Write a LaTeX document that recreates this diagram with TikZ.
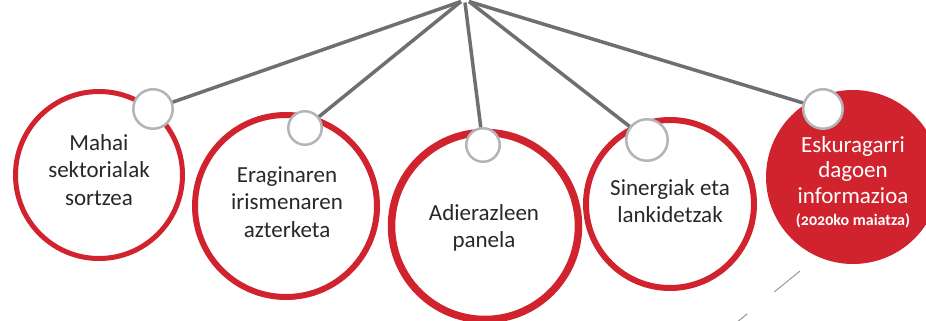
\documentclass[tikz,border=0pt]{standalone}
\usepackage{fontspec}
\setmainfont{Carlito}[Numbers=OldStyle]
\definecolor{ringred}{RGB}{209,35,45}
\definecolor{linegray}{RGB}{110,111,114}
\definecolor{smallgray}{RGB}{178,180,183}
\definecolor{txt}{RGB}{40,40,42}
\definecolor{dashgray}{RGB}{150,150,152}
\begin{document}
\begin{tikzpicture}[x=1pt,y=-1pt,
  bigring/.style={circle,draw=ringred,fill=white,inner sep=0pt},
  bigfill/.style={circle,fill=ringred,inner sep=0pt},
  label1/.style={inner sep=0pt,align=center,text=txt,font=\fontsize{23}{27.5}\selectfont},
  label2/.style={inner sep=0pt,align=center,text=white,font=\fontsize{23}{25.5}\selectfont},
  knob/.style={circle,draw=smallgray,line width=2.5pt,fill=white,inner sep=0pt},
  spoke/.style={draw=linegray,line width=3.5pt},
  guide/.style={draw=dashgray,line width=1pt,dash pattern=on 33pt off 35pt}
]
\useasboundingbox (0,0) rectangle (926,321);
\clip (0,0) rectangle (926,321);
% hub points
\coordinate (hubL) at (461,1.5);
\coordinate (hubM) at (465,2.5);
\coordinate (hubR) at (469,1.5);
% big circles
\node[bigring,line width=5pt,minimum size=167pt] (c1) at (99,175) {};
\node[bigring,line width=6pt,minimum size=182pt] (c2) at (286,206) {};
\node[bigring,line width=7.5pt,minimum size=187pt] (c3) at (485,226) {};
\node[bigring,line width=6pt,minimum size=168pt] (c4) at (670,204) {};
\node[bigfill,minimum size=174pt] (c5) at (853,177) {};
% texts
\node[label1] (t1) at (99,170) {Mahai\\sektorialak\\sortzea};
\node[label1] (t2) at (287,202) {Eraginaren\\irismenaren\\azterketa};
\node[label1] (t3) at (484,228) {Adierazleen\\panela};
\node[label1] (t4) at (670,201) {Sinergiak eta\\lankidetzak};
\node[label2] (t5) at (853,182) {Eskuragarri\\dagoen\\informazioa\\[-3pt]{\fontsize{16}{18}\selectfont\bfseries (2020ko maiatza)}};
% small knobs
\node[knob,minimum size=39.5pt] (s1) at (153,109) {};
\node[knob,minimum size=33.5pt] (s2) at (305,128) {};
\node[knob,minimum size=33.5pt] (s3) at (483,145) {};
\node[knob,minimum size=41.5pt] (s4) at (647,140) {};
\node[knob,minimum size=39.5pt] (s5) at (823,109) {};
% spokes
\draw[spoke] (hubL) -- (s1);
\draw[spoke] (hubL) -- (s2);
\draw[spoke] (hubM) -- (s3);
\draw[spoke] (hubR) -- (s4);
\draw[spoke] (hubR) -- (s5);
% guide line
\coordinate (g1) at (800,271);
\coordinate (g2) at (720,336);
\draw[guide] (g1) -- (g2);
\end{tikzpicture}
\end{document}
